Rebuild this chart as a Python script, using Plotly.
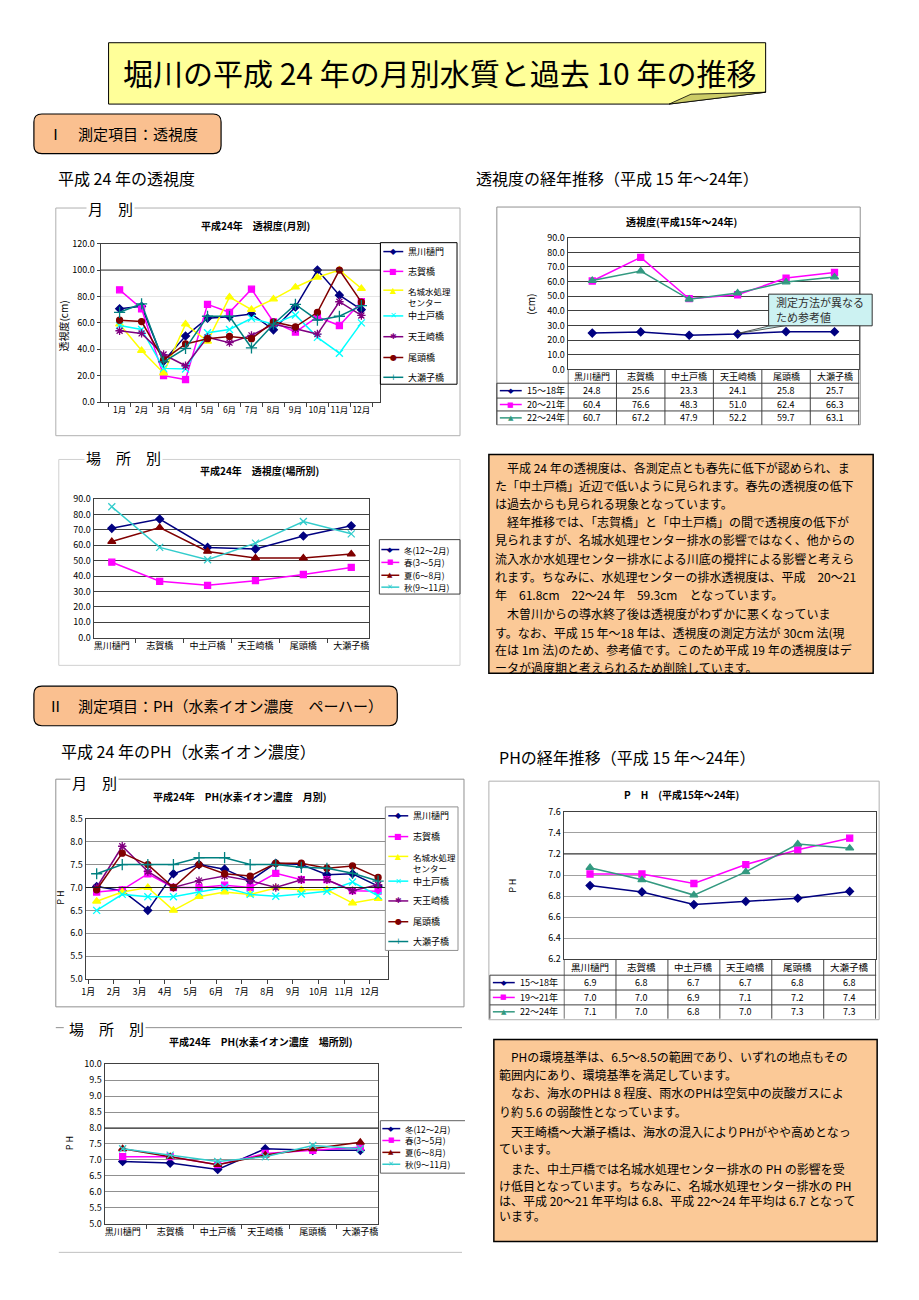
import plotly.graph_objects as go
import numpy as np

# page is 919x1300; the browser adds an 8px body margin, so the figure itself is 903x1284
PAGE_W, PAGE_H, OFF = 919, 1300, 8
FW, FH = PAGE_W - 2 * OFF, PAGE_H - 2 * OFF
def X(p): return (p - OFF) / FW
def Y(p): return 1 - (p - OFF) / FH

JP = "Noto Sans CJK JP"
SYM = "DejaVu Sans"

# ---------------- data ----------------
months = ["1月", "2月", "3月", "4月", "5月", "6月", "7月", "8月", "9月", "10月", "11月", "12月"]
sites = ["黒川樋門", "志賀橋", "中土戸橋", "天王崎橋", "尾頭橋", "大瀬子橋"]
stations7 = ["黒川樋門", "志賀橋", "名城水処理<br>センター", "中土戸橋", "天王崎橋", "尾頭橋", "大瀬子橋"]
seasons = ["冬(12～2月)", "春(3～5月)", "夏(6～8月)", "秋(9～11月)"]

# 平成24年 透視度(月別)
tr_kurokawa = [70.7, 72.5, 31, 50, 63.5, 64.7, 66.7, 54.7, 72, 100, 81, 70]
tr_shiga = [85, 70.7, 20, 17, 74, 68, 85.5, 60.7, 53, 64.5, 58, 76]
tr_meijo = [59, 39, 22, 59, 46, 79.5, 70, 78, 87, 94.5, 100, 86]
tr_nakatsuchido = [58, 55, 25.5, 25, 52.5, 55, 63.5, 59, 66, 49, 37, 60]
tr_tenno = [54, 52, 36, 27.5, 49, 45, 50.5, 59, 55.5, 51.5, 76, 65.6]
tr_otou = [62, 61, 32, 44, 48, 49.7, 48, 60.7, 57, 68, 100, 75.7]
tr_oseko = [68, 74.4, 30.5, 40.6, 65, 65, 41, 59, 74, 62, 65, 73]

# 透視度(平成15年～24年)
tr_periods = ["15～18年", "20～21年", "22～24年"]
tr_p1 = [24.8, 25.6, 23.3, 24.1, 25.8, 25.7]
tr_p2 = [60.4, 76.6, 48.3, 51.0, 62.4, 66.3]
tr_p3 = [60.7, 67.2, 47.9, 52.2, 59.7, 63.1]

# 平成24年 透視度(場所別)
trs_winter = [71, 77, 58.6, 57.5, 66, 72.6]
trs_spring = [49, 36.6, 34, 37, 41, 45.6]
trs_summer = [62.4, 71.5, 56, 51.7, 51.7, 54.3]
trs_autumn = [85, 58.6, 50.6, 61.4, 75.4, 67.4]

# 平成24年 PH(月別)
ph_kurokawa = [7.02, 6.93, 6.5, 7.3, 7.5, 7.4, 7.15, 7.53, 7.5, 7.28, 7.3, 7.03]
ph_shiga = [6.9, 6.95, 7.3, 7.0, 7.0, 7.05, 7.0, 7.31, 7.17, 7.17, 6.93, 6.92]
ph_meijo = [6.7, 6.9, 7.0, 6.5, 6.8, 6.9, 6.85, 6.99, 6.95, 6.95, 6.66, 6.76]
ph_nakatsuchido = [6.5, 6.85, 6.8, 6.8, 6.9, 7.0, 6.85, 6.81, 6.86, 6.92, 7.12, 6.82]
ph_tenno = [7.0, 7.9, 7.35, 7.0, 7.15, 7.25, 7.15, 7.0, 7.17, 7.17, 6.93, 7.06]
ph_otou = [6.95, 7.75, 7.5, 7.0, 7.5, 7.3, 7.25, 7.53, 7.53, 7.42, 7.47, 7.22]
ph_oseko = [7.3, 7.5, 7.5, 7.5, 7.65, 7.65, 7.5, 7.5, 7.44, 7.42, 7.31, 7.14]

# PH(平成15年～24年)
ph_periods = ["15～18年", "19～21年", "22～24年"]
ph_p1 = [6.90, 6.84, 6.72, 6.75, 6.78, 6.845]
ph_p2 = [7.01, 7.01, 6.92, 7.10, 7.24, 7.35]
ph_p3 = [7.07, 6.955, 6.81, 7.03, 7.295, 7.255]
ph_p1_tbl = ["6.9", "6.8", "6.7", "6.7", "6.8", "6.8"]
ph_p2_tbl = ["7.0", "7.0", "6.9", "7.1", "7.2", "7.4"]
ph_p3_tbl = ["7.1", "7.0", "6.8", "7.0", "7.3", "7.3"]

# 平成24年 PH(場所別)
phs_winter = [6.95, 6.9, 6.7, 7.35, 7.3, 7.3]
phs_spring = [7.1, 7.1, 6.85, 7.2, 7.3, 7.4]
phs_summer = [7.35, 7.1, 6.85, 7.15, 7.35, 7.55]
phs_autumn = [7.35, 7.15, 6.95, 7.1, 7.45, 7.35]

# ---------------- styles ----------------
ST7 = [  # color, plotly symbol, glyph, size
    ("#000080", "diamond", "◆", 6),
    ("#FF00FF", "square", "■", 6),
    ("#FFFF00", "triangle-up", "▲", 7),
    ("#00FFFF", "x-thin", "✕", 7),
    ("#800080", "asterisk", "✱", 7),
    ("#800000", "circle", "●", 6),
    ("#008080", "cross-thin", "+", 8),
]
SEAS = [
    ("#000080", "diamond", "◆", 6),
    ("#FF00FF", "square", "■", 6),
    ("#800000", "triangle-up", "▲", 7),
    ("#33CCCC", "x-thin", "✕", 7),
]
PER = [
    ("#000080", "diamond", "◆", 6),
    ("#FF00FF", "square", "■", 6),
    ("#339980", "triangle-up", "▲", 7),
]

fig = go.Figure()
shapes, annots, lay = [], [], {}


def txt(x, y, s, size=10, color="black", xa="left", ya="middle", family=JP, angle=0, bg=None):
    d = dict(x=X(x), y=Y(y), xref="paper", yref="paper", text=s, showarrow=False,
             xanchor=xa, yanchor=ya, textangle=angle, align="left",
             font=dict(size=size, color=color, family=family))
    if bg:
        d["bgcolor"] = bg
    annots.append(d)


def rect(x0, y0, x1, y1, color="black", width=1, fill="rgba(0,0,0,0)"):
    shapes.append(dict(type="rect", xref="paper", yref="paper", x0=X(x0), x1=X(x1),
                       y0=Y(y1), y1=Y(y0), line=dict(color=color, width=width), fillcolor=fill))


def hline(x0, x1, y, color="black", width=1):
    shapes.append(dict(type="line", xref="paper", yref="paper", x0=X(x0), x1=X(x1),
                       y0=Y(y), y1=Y(y), line=dict(color=color, width=width)))


def vline(x, y0, y1, color="black", width=1):
    shapes.append(dict(type="line", xref="paper", yref="paper", x0=X(x), x1=X(x),
                       y0=Y(y0), y1=Y(y1), line=dict(color=color, width=width)))


def path(pts, fill, color="black", width=1):
    p = "M " + " L ".join(f"{X(a):.5f},{Y(b):.5f}" for a, b in pts) + " Z"
    shapes.append(dict(type="path", xref="paper", yref="paper", path=p,
                       fillcolor=fill, line=dict(color=color, width=width)))


def rrect(x0, y0, x1, y1, r, fill, color="black", width=1.2):
    f = lambda a, b: f"{X(a):.5f},{Y(b):.5f}"
    p = (f"M {f(x0+r,y0)} L {f(x1-r,y0)} Q {f(x1,y0)} {f(x1,y0+r)} L {f(x1,y1-r)} "
         f"Q {f(x1,y1)} {f(x1-r,y1)} L {f(x0+r,y1)} Q {f(x0,y1)} {f(x0,y1-r)} "
         f"L {f(x0,y0+r)} Q {f(x0,y0)} {f(x0+r,y0)} Z")
    shapes.append(dict(type="path", xref="paper", yref="paper", path=p,
                       fillcolor=fill, line=dict(color=color, width=width)))


def key(x0, y, style, label, ln=20, fs=9, gs=8):
    color, _, glyph, _ = style
    hline(x0, x0 + ln, y, color=color, width=1.5)
    txt(x0 + ln / 2, y, glyph, size=gs, color=color, xa="center", family=SYM)
    if "<br>" in label:
        txt(x0 + ln + 3, y - 7, label, size=fs - 0.5, ya="top")
    else:
        txt(x0 + ln + 3, y, label, size=fs)


def axes(n, xd, yd, xcfg, ycfg):
    xs = "xaxis" if n == 1 else f"xaxis{n}"
    ys = "yaxis" if n == 1 else f"yaxis{n}"
    xr = "x" if n == 1 else f"x{n}"
    yr = "y" if n == 1 else f"y{n}"
    base = dict(showline=True, linecolor="#404040", linewidth=1, mirror=True, zeroline=False,
                tickfont=dict(size=9, family=JP, color="black"), fixedrange=True,
                tickcolor="#404040", tickangle=0)
    lay[xs] = dict(base, domain=[X(xd[0]), X(xd[1])], anchor=yr, **xcfg)
    lay[ys] = dict(base, domain=[Y(yd[1]), Y(yd[0])], anchor=xr, **ycfg)
    return xr, yr


def line_trace(x, y, xr, yr, style, lw=1.5):
    color, sym, _, size = style
    fig.add_trace(go.Scatter(x=x, y=y, xaxis=xr, yaxis=yr, mode="lines+markers",
                             line=dict(color=color, width=lw),
                             marker=dict(symbol=sym, size=size, color=color,
                                         line=dict(color=color, width=1.3)),
                             showlegend=False, hoverinfo="skip"))


def refline(xr, yr, v, color, width=1):
    shapes.append(dict(type="line", xref=f"{xr} domain", yref=yr, x0=0, x1=1, y0=v, y1=v,
                       line=dict(color=color, width=width)))


def cell(xr, cat, y, s, size=9):
    annots.append(dict(x=cat, y=Y(y), xref=xr, yref="paper", text=s, showarrow=False,
                       xanchor="center", yanchor="middle",
                       font=dict(size=size, family=JP, color="black")))


# ---------------- page headings ----------------
path([(105, 36), (765, 36), (765, 86), (668, 98), (105, 98)], "#FFFF99", "black", 1)
path([(668, 98), (690, 88), (765, 86)], "#CCCC66", "black", 0.8)
txt(437, 66, "堀川の平成 24 年の月別水質と過去 10 年の推移", size=30, xa="center")

rrect(30, 108, 218, 148, 8, "#FAC090")
txt(42, 128, "Ⅰ　測定項目：透視度", size=15)
rrect(30, 686, 395, 726, 8, "#FAC090")
txt(42, 706, "Ⅱ　測定項目：PH（水素イオン濃度　ペーハー）", size=15)

txt(52, 173, "平成 24 年の透視度", size=16)
txt(472, 173, "透視度の経年推移（平成 15 年～24年）", size=16)
txt(55, 752, "平成 24 年のPH（水素イオン濃度）", size=16)
txt(495, 758, "PHの経年推移（平成 15 年～24年）", size=16)

# ---------------- chart 1 : 透視度(月別) ----------------
rect(52, 203, 458, 433, color="#B0B0B0")
txt(82, 203, "月　別", size=15, bg="white")
txt(253, 221, "<b>平成24年　透視度(月別)</b>", size=10, xa="center")
xr, yr = axes(1, (97, 378), (239, 399),
              dict(type="category", categoryorder="array", categoryarray=months, ticks="outside",
                   tickson="boundaries", ticklen=4, showgrid=False,
                   tickfont=dict(size=8.5, family=JP, color="black")),
              dict(range=[0, 120], dtick=20, tickformat=".1f", showgrid=True,
                   gridcolor="#E6E6E6", ticks="outside", ticklen=3))
refline(xr, yr, 100, "#303030")
for ser, st in zip([tr_kurokawa, tr_shiga, tr_meijo, tr_nakatsuchido, tr_tenno, tr_otou, tr_oseko], ST7):
    line_trace(months, ser, xr, yr, st)
txt(60, 322, "透視度(cm)", size=10, xa="center", angle=-90)
rect(378, 238, 455, 381, color="black")
for lab, st, yy in zip(stations7, ST7, [247, 267, 286, 312, 333, 354, 374]):
    key(381, yy, st, lab)

# ---------------- chart 2 : 透視度(平成15年～24年) ----------------
rect(495, 202, 860, 422, color="#909090")
txt(680, 217, "<b>透視度(平成15年～24年)</b>", size=10, xa="center")
xr, yr = axes(2, (566, 859), (233, 366),
              dict(type="category", categoryorder="array", categoryarray=sites,
                   showticklabels=False, ticks="", showgrid=False),
              dict(range=[0, 90], dtick=10, tickformat=".1f", showgrid=True,
                   gridcolor="#404040", ticks=""))
for ser, st in zip([tr_p1, tr_p2, tr_p3], PER):
    line_trace(sites, ser, xr, yr, st)
txt(528, 300, "(cm)", size=10, xa="center", angle=-90)
for yy in (380, 395, 408):
    hline(495, 859, yy, color="#404040")
for k in range(7):
    shapes.append(dict(type="line", xref=xr, yref="paper", x0=k - 0.5, x1=k - 0.5,
                       y0=Y(366), y1=Y(422), line=dict(color="#404040", width=1)))
vline(495, 380, 422, color="#404040")
for i, s in enumerate(sites):
    cell(xr, s, 373, s, 9)
    for vals, yy in ((tr_p1, 387.5), (tr_p2, 401.5), (tr_p3, 415)):
        cell(xr, s, yy, f"{vals[i]:.1f}", 9)
for lab, st, yy in zip(tr_periods, PER, (387.5, 401.5, 415)):
    key(498, yy, st, lab, ln=22, fs=9, gs=7)
# callout
path([(773, 321), (736, 330), (790, 321)], "#CCF2F2", "#303030", 0.8)
rect(768, 290, 872, 322, color="#303030", fill="#CCF2F2")
txt(773, 298, "測定方法が異なる", size=11, color="#303030")
txt(773, 313, "ため参考値", size=11, color="#303030")

# ---------------- chart 3 : 透視度(場所別) ----------------
rect(55, 457, 458, 665, color="#D0D0D0")
txt(80, 455, "場　所　別", size=15, bg="white")
txt(257, 468, "<b>平成24年　透視度(場所別)</b>", size=10, xa="center")
xr, yr = axes(3, (90, 367), (497, 637),
              dict(type="category", categoryorder="array", categoryarray=sites, ticks="outside",
                   tickson="boundaries", ticklen=4, showgrid=False,
                   tickfont=dict(size=9, family=JP, color="black")),
              dict(range=[0, 90], dtick=10, tickformat=".1f", showgrid=True,
                   gridcolor="#404040", ticks=""))
for ser, st in zip([trs_winter, trs_spring, trs_summer, trs_autumn], SEAS):
    line_trace(sites, ser, xr, yr, st)
rect(377, 538, 458, 593, color="#404040")
for lab, st, yy in zip(seasons, SEAS, (548, 561, 574, 586)):
    key(379, yy, st, lab, ln=18, fs=8.5, gs=7)

# ---------------- text box 1 ----------------
rect(487, 452, 873, 673, color="black", width=1.5, fill="#FBC997")
box1 = [
    "　平成 24 年の透視度は、各測定点とも春先に低下が認められ、ま",
    "た「中土戸橋」近辺で低いように見られます。春先の透視度の低下",
    "は過去からも見られる現象となっています。",
    "　経年推移では、「志賀橋」と「中土戸橋」の間で透視度の低下が",
    "見られますが、名城水処理センター排水の影響ではなく、他からの",
    "流入水か水処理センター排水による川底の攪拌による影響と考えら",
    "れます。ちなみに、水処理センターの排水透視度は、平成　20～21",
    "年　61.8cm　22～24 年　59.3cm　となっています。",
    "　木曽川からの導水終了後は透視度がわずかに悪くなっていま",
    "す。なお、平成 15 年～18 年は、透視度の測定方法が 30cm 法(現",
    "在は 1m 法)のため、参考値です。このため平成 19 年の透視度はデ",
    "ータが過度期と考えられるため削除しています。",
]
for s, yy in zip(box1, [465, 483, 501, 520, 538, 557, 575, 593, 613, 632, 649, 667]):
    txt(491, yy, s, size=12)

# ---------------- chart 4 : PH(月別) ----------------
rect(52, 780, 462, 1010, color="#909090")
txt(66, 783, "月　別", size=15, bg="white")
txt(237, 797, "<b>平成24年　PH(水素イオン濃度　月別)</b>", size=10, xa="center")
month_pos = np.arange(12) + 0.33
xr, yr = axes(4, (82, 386), (820, 982),
              dict(range=[-0.1, 11.73], tickvals=list(range(12)), ticktext=months,
                   ticks="outside", ticklen=4, showgrid=False),
              dict(range=[5.0, 8.5], dtick=0.5, tickformat=".1f", showgrid=True,
                   gridcolor="#909090", ticks=""))
refline(xr, yr, 7.0, "#202020", 1.2)
for ser, st in zip([ph_kurokawa, ph_shiga, ph_meijo, ph_nakatsuchido, ph_tenno, ph_otou, ph_oseko], ST7):
    line_trace(month_pos, ser, xr, yr, st)
txt(57, 900, "P H", size=9, xa="center", angle=-90)
rect(383, 808, 456, 953, color="#909090", fill="white")
for lab, st, yy in zip(stations7, ST7, [817, 838, 858, 883, 903, 924, 944]):
    key(386, yy, st, lab)

# ---------------- chart 5 : PH(平成15年～24年) ----------------
rect(487, 782, 879, 1023, color="#B0B0B0")
txt(680, 795, "<b>P　H　(平成15年～24年)</b>", size=10, xa="center")
xr, yr = axes(5, (562, 876), (813, 962),
              dict(type="category", categoryorder="array", categoryarray=sites,
                   showticklabels=False, ticks="", showgrid=False),
              dict(range=[6.2, 7.6], dtick=0.2, tickformat=".1f", showgrid=True,
                   gridcolor="#A0A0A0", ticks=""))
refline(xr, yr, 7.2, "#303030")
for ser, st in zip([ph_p1, ph_p2, ph_p3], PER):
    line_trace(sites, ser, xr, yr, st)
txt(510, 888, "P H", size=9, xa="center", angle=-90)
for yy in (978, 993, 1008):
    hline(488, 876, yy, color="#404040")
for k in range(7):
    shapes.append(dict(type="line", xref=xr, yref="paper", x0=k - 0.5, x1=k - 0.5,
                       y0=Y(962), y1=Y(1022), line=dict(color="#404040", width=1)))
vline(488, 978, 1022, color="#404040")
for i, s in enumerate(sites):
    cell(xr, s, 970, s, 9.5)
    for vals, yy in ((ph_p1_tbl, 985.5), (ph_p2_tbl, 1000.5), (ph_p3_tbl, 1015)):
        cell(xr, s, yy, vals[i], 9)
for lab, st, yy in zip(ph_periods, PER, (985.5, 1000.5, 1015)):
    key(491, yy, st, lab, ln=22, fs=9, gs=7)

# ---------------- chart 6 : PH(場所別) ----------------
hline(52, 60, 1031, color="#909090")
hline(135, 460, 1031, color="#909090")
hline(55, 460, 1258, color="#C0C0C0")
txt(63, 1032, "場　所　別", size=15, bg="white")
txt(258, 1045, "<b>平成24年　PH(水素イオン濃度　場所別)</b>", size=10, xa="center")
xr, yr = axes(6, (101, 376), (1068, 1229),
              dict(type="category", categoryorder="array", categoryarray=sites, ticks="outside",
                   tickson="boundaries", ticklen=4, showgrid=False,
                   tickfont=dict(size=9, family=JP, color="black")),
              dict(range=[5.0, 10.0], dtick=0.5, tickformat=".1f", showgrid=True,
                   gridcolor="#909090", ticks=""))
refline(xr, yr, 8.0, "#202020", 1.2)
for ser, st in zip([phs_winter, phs_spring, phs_summer, phs_autumn], SEAS):
    line_trace(sites, ser, xr, yr, st)
txt(66, 1148, "P H", size=9, xa="center", angle=-90)
hline(378, 463, 1125, color="#606060")
hline(378, 463, 1178, color="#606060")
vline(378, 1125, 1178, color="#606060")
for lab, st, yy in zip(seasons, SEAS, (1133, 1145, 1157, 1169)):
    key(380, yy, st, lab, ln=18, fs=8.5, gs=7)

# ---------------- text box 2 ----------------
rect(492, 1043, 877, 1247, color="black", width=1.5, fill="#FBC997")
box2 = [
    "　PHの環境基準は、6.5～8.5の範囲であり、いずれの地点もその",
    "範囲内にあり、環境基準を満足しています。",
    "　なお、海水のPHは 8 程度、雨水のPHは空気中の炭酸ガスによ",
    "り約 5.6 の弱酸性となっています。",
    "　天王崎橋～大瀬子橋は、海水の混入によりPHがやや高めとなっ",
    "ています。",
    "　また、中土戸橋では名城水処理センター排水の PH の影響を受",
    "け低目となっています。ちなみに、名城水処理センター排水の PH",
    "は、平成 20～21 年平均は 6.8、平成 22～24 年平均は 6.7 となって",
    "います。",
]
for s, yy in zip(box2, [1060, 1078, 1097, 1116, 1136, 1153, 1173, 1190, 1206, 1221]):
    txt(495, yy, s, size=12)

fig.update_layout(width=FW, height=FH, margin=dict(l=0, r=0, t=0, b=0),
                  paper_bgcolor="white", plot_bgcolor="white", showlegend=False,
                  font=dict(family=JP, size=10, color="black"),
                  shapes=shapes, annotations=annots, **lay)
fig.write_html("out.html", config={"displayModeBar": False, "staticPlot": True})
